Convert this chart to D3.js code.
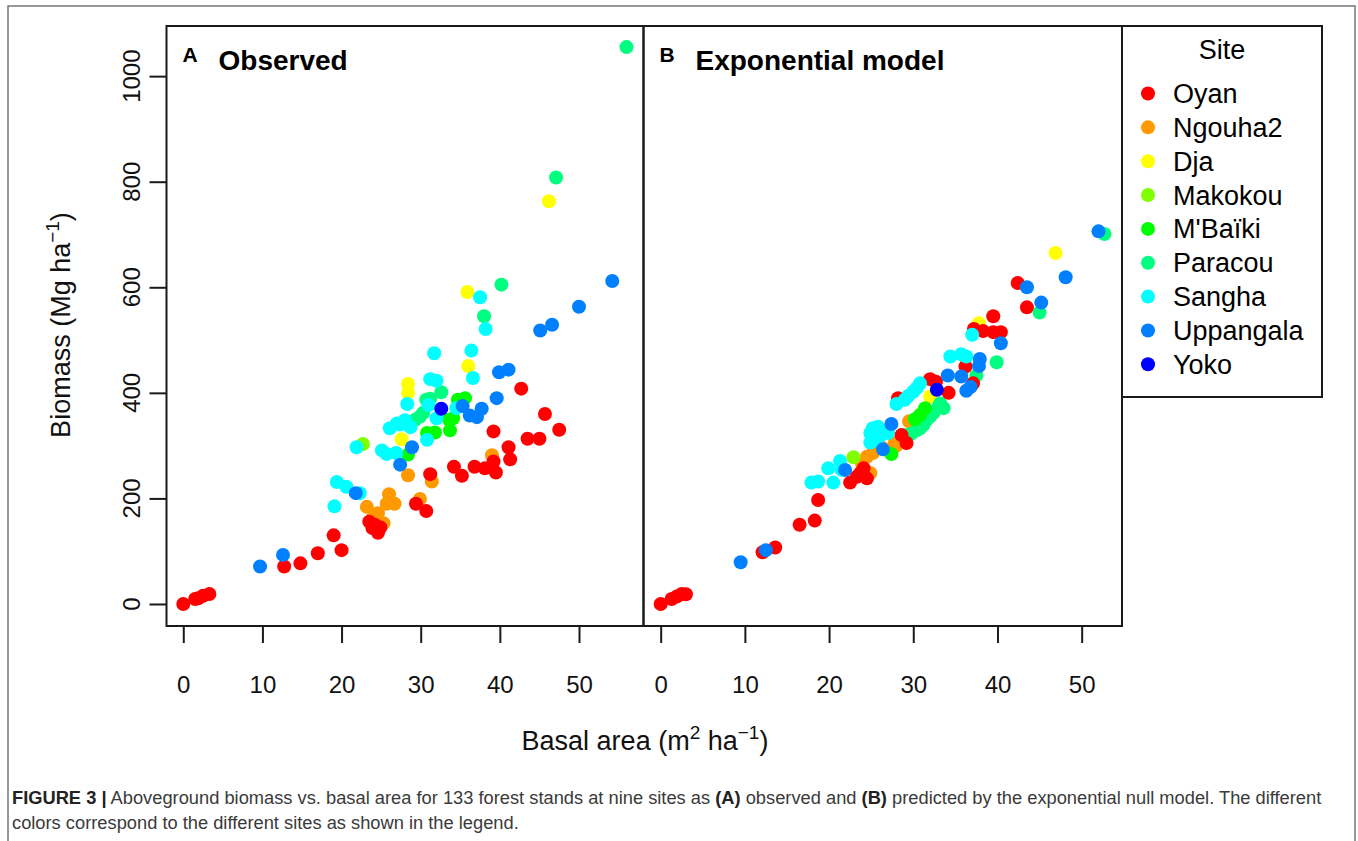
<!DOCTYPE html>
<html lang="en">
<head>
<meta charset="UTF-8">
<title>Biomass vs basal area</title>
<script src="https://d3js.org/d3.v7.min.js"></script>
<style>
  body { margin: 0; background: #fff; }
  svg text { font-family: "Liberation Sans", Arial, Helvetica, sans-serif; }
</style>
</head>
<body>
<div id="chart"></div>
<script>
// sites and colours (legend order)
const sites = ["Oyan", "Ngouha2", "Dja", "Makokou", "M'Baïki", "Paracou", "Sangha", "Uppangala", "Yoko"];
const siteColors = ["#FF0000", "#FF9900", "#FFFF00", "#80FF00", "#00FF00", "#00FF80", "#00FFFF", "#0080FF", "#0000FF"];

// observed: [basal area, biomass]
const obsOyan = [[0,0],[1.5,9.5],[1.9,10.8],[2.5,15.7],[3.3,18.9],[12.75,71],[14.8,77],[17.0,96],[19.0,130],[20.0,102],
  [23.5,156],[23.9,144],[24.6,135],[24.9,145],[24.2,150],[29.4,190],[30.7,176],[31.2,246],[34.2,260],[35.2,243],
  [36.8,260],[38.1,257],[39.2,270],[39.5,249],[39.2,327],[41.1,297],[41.3,274],[42.7,408],[43.5,313],[45.0,313],
  [45.7,360],[47.5,330]];
const obsNgouha2 = [[28.4,244],[31.4,232],[29.9,199],[23.2,184],[26.0,208],[26.7,190],[25.7,190],[24.6,172],[25.3,153],[39.0,282],[24.0,165]];
const obsDja = [[46.2,763],[35.9,591],[36.0,451],[28.4,417],[28.4,400],[27.6,312]];
const obsMakokou = [[22.7,303]];
const obsMBaiki = [[33.6,349],[33.7,329],[31.8,325],[30.8,324],[28.4,283],[35.6,390],[34.1,352],[34.7,387]];
const obsParacou = [[56.0,1055],[47.1,808],[40.2,605],[38.0,545],[32.6,401],[31.2,389],[29.9,355],[30.3,362],[29.3,349],[30.7,387]];
const obsSangha = [[37.5,581],[38.2,521],[31.7,475],[36.4,480],[36.6,428],[31.2,426],[32.0,423],[28.3,379],[31.0,377],[32.0,352],
  [26.1,333],[27.0,342],[28.0,348],[28.7,335],[30.8,311],[21.9,297],[25.1,291],[25.7,284],[26.9,286],[19.4,231],
  [20.6,222],[22.3,210],[19.1,185],[34.5,371],[27.4,340]];
const obsUppangala = [[54.2,612],[50.0,563],[46.6,529],[45.1,518],[39.9,439],[41.1,444],[39.6,390],[35.3,375],[37.7,370],[36.2,357],
  [37.1,354],[28.9,297],[27.4,264],[21.8,210],[12.6,93],[9.7,71]];
const obsYoko = [[32.6,370]];

// exponential model predictions
const predOyan = [[0,0],[1.3,9.5],[1.9,14],[2.5,19],[3.0,18.4],[12.1,98],[13.6,107],[16.5,150],[18.3,158],[18.7,197],
  [22.5,230],[23.3,241],[24.1,257],[24.5,238],[23.7,248],[28.2,390],[28.6,320],[29.2,305],[32.0,426],[32.7,421],
  [34.2,400],[37.1,418],[36.2,450],[37.2,521],[38.3,517],[39.5,515],[40.4,515],[39.5,545],[42.4,608],[43.5,562]];
const predNgouha2 = [[23.9,267],[24.5,279],[25.2,286],[24.9,248],[27.8,305],[29.5,346],[26.3,296],[28.0,300]];
const predDja = [[46.9,665],[37.8,532],[32.0,393]];
const predMakokou = [[22.9,278]];
const predMBaiki = [[31.4,371],[30.8,358],[27.4,284],[30.2,350]];
const predParacou = [[52.7,701],[45.0,552],[39.9,458],[37.5,433],[33.2,380],[33.6,371],[33.0,374],[32.4,362],[32.0,355],[31.6,349],
  [31.2,339],[30.8,333],[30.4,329],[29.8,323],[29.2,320]];
const predSangha = [[37.0,510],[34.4,469],[35.7,473],[36.3,469],[30.8,418],[30.4,409],[30.0,402],[29.4,394],[29.0,387],[28.0,379],
  [24.9,324],[25.2,333],[25.8,336],[26.6,327],[27.0,324],[24.9,306],[25.6,311],[26.0,317],[21.3,271],[19.9,257],
  [18.7,232],[17.9,230],[20.5,230],[21.5,254]];
const predUppangala = [[52.0,706],[48.1,619],[43.5,600],[45.2,571],[40.4,494],[37.9,464],[37.8,451],[34.1,433],[35.7,431],[36.8,411],
  [36.3,404],[27.4,341],[26.4,293],[21.9,254],[12.5,102],[9.5,79]];
const predYoko = [[32.8,406]];

const xTicks = [0, 10, 20, 30, 40, 50];
const yTicks = [0, 200, 400, 600, 800, 1000];

// axis limits as R would draw them
const xLimA = [-2.12, 58.15];
const xLimB = [-2.04, 54.79];
const yLim = [-41.7, 1095];

const observed = [obsOyan, obsNgouha2, obsDja, obsMakokou, obsMBaiki, obsParacou, obsSangha, obsUppangala, obsYoko];
const predicted = [predOyan, predNgouha2, predDja, predMakokou, predMBaiki, predParacou, predSangha, predUppangala, predYoko];
// which site gets drawn first (lower layer)
const drawOrder = [1, 3, 2, 5, 4, 0, 6, 7, 8];

function toPoints(sets) {
  const pts = [];
  drawOrder.forEach(i => sets[i].forEach(d => pts.push({ x: d[0], y: d[1], site: i })));
  return pts;
}

const W = 1358, H = 841;
const plotTop = 26, plotBottom = 626;

const svg = d3.select("#chart").append("svg")
  .attr("width", W)
  .attr("height", H);

// outer frame
svg.append("rect")
  .attr("x", 8).attr("y", 6)
  .attr("width", 1347).attr("height", 845)
  .attr("fill", "none")
  .attr("stroke", "#777")
  .attr("stroke-width", 1.5);

const y = d3.scaleLinear().domain(yLim).range([plotBottom, plotTop]);

const panels = [
  { left: 166.5, right: 643.5, lim: xLimA, data: toPoints(observed), tag: "A", title: "Observed" },
  { left: 643.5, right: 1122, lim: xLimB, data: toPoints(predicted), tag: "B", title: "Exponential model" }
];

panels.forEach(p => {
  const x = d3.scaleLinear().domain(p.lim).range([p.left, p.right]);
  const g = svg.append("g");

  g.selectAll("circle")
    .data(p.data)
    .join("circle")
    .attr("cx", d => x(d.x))
    .attr("cy", d => y(d.y))
    .attr("r", 7)
    .attr("fill", d => siteColors[d.site]);

  g.append("rect")
    .attr("x", p.left).attr("y", plotTop)
    .attr("width", p.right - p.left).attr("height", plotBottom - plotTop)
    .attr("fill", "none")
    .attr("stroke", "#1a1a1a")
    .attr("stroke-width", 2);

  const ax = g.append("g")
    .attr("transform", `translate(0,${plotBottom})`)
    .call(d3.axisBottom(x).tickValues(xTicks).tickSize(17).tickPadding(33));
  ax.select(".domain").remove();
  ax.selectAll("line").attr("stroke", "#1a1a1a").attr("stroke-width", 2);
  ax.selectAll("text").attr("font-size", 24).attr("fill", "#111")
    .style("font-family", '"Liberation Sans", Arial, sans-serif');

  g.append("text")
    .attr("x", p.left + 16).attr("y", 62)
    .attr("font-size", 21).attr("font-weight", "bold")
    .text(p.tag);
  g.append("text")
    .attr("x", p.left + 52).attr("y", 69.5)
    .attr("font-size", 28).attr("font-weight", "bold")
    .text(p.title);
});

// y axis (left panel only)
const yAx = svg.append("g")
  .attr("transform", "translate(166.5,0)")
  .call(d3.axisLeft(y).tickValues(yTicks).tickSize(17).tickFormat(""));
yAx.select(".domain").remove();
yAx.selectAll("line").attr("stroke", "#1a1a1a").attr("stroke-width", 2);

svg.append("g").selectAll("text")
  .data(yTicks)
  .join("text")
  .attr("transform", d => `translate(140,${y(d)}) rotate(-90)`)
  .attr("text-anchor", "middle")
  .attr("font-size", 24)
  .attr("fill", "#111")
  .text(d => d);

// axis titles
const yTitle = svg.append("text")
  .attr("transform", "translate(70,325) rotate(-90)")
  .attr("text-anchor", "middle")
  .attr("font-size", 27)
  .attr("fill", "#111");
yTitle.append("tspan").text("Biomass (Mg ha");
yTitle.append("tspan").attr("font-size", 19).attr("dy", -11).text("\u22121");
yTitle.append("tspan").attr("dy", 11).text(")");

const xTitle = svg.append("text")
  .attr("x", 645).attr("y", 750)
  .attr("text-anchor", "middle")
  .attr("font-size", 27)
  .attr("fill", "#111");
xTitle.append("tspan").text("Basal area (m");
xTitle.append("tspan").attr("font-size", 19).attr("dy", -11).text("2");
xTitle.append("tspan").attr("dy", 11).text(" ha");
xTitle.append("tspan").attr("font-size", 19).attr("dy", -11).text("\u22121");
xTitle.append("tspan").attr("dy", 11).text(")");

// legend
const lg = svg.append("g");
lg.append("rect")
  .attr("x", 1122).attr("y", plotTop)
  .attr("width", 200).attr("height", 371)
  .attr("fill", "none")
  .attr("stroke", "#1a1a1a")
  .attr("stroke-width", 2);
lg.append("text")
  .attr("x", 1222).attr("y", 59)
  .attr("text-anchor", "middle")
  .attr("font-size", 27)
  .text("Site");
const rows = lg.selectAll("g.row")
  .data(sites)
  .join("g")
  .attr("class", "row")
  .attr("transform", (d, i) => `translate(1148,${93.5 + i * 33.85})`);
rows.append("circle").attr("r", 7).attr("fill", (d, i) => siteColors[i]);
rows.append("text")
  .attr("x", 25).attr("y", 9.5)
  .attr("font-size", 27)
  .text(d => d);

// caption
const capSize = 18.3;
const cap1 = svg.append("text").attr("x", 12).attr("y", 804).attr("font-size", capSize).attr("fill", "#3a3a3a");
cap1.append("tspan").attr("font-weight", "bold").attr("fill", "#222").text("FIGURE 3 |");
cap1.append("tspan").text(" Aboveground biomass vs. basal area for 133 forest stands at nine sites as ");
cap1.append("tspan").attr("font-weight", "bold").attr("fill", "#222").text("(A)");
cap1.append("tspan").text(" observed and ");
cap1.append("tspan").attr("font-weight", "bold").attr("fill", "#222").text("(B)");
cap1.append("tspan").text(" predicted by the exponential null model. The different");
svg.append("text").attr("x", 12).attr("y", 829).attr("font-size", capSize).attr("fill", "#3a3a3a")
  .text("colors correspond to the different sites as shown in the legend.");
</script>
</body>
</html>
